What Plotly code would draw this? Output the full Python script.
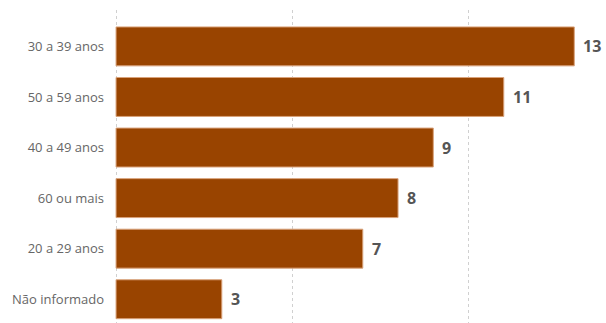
import plotly.graph_objects as go

categories = ["30 a 39 anos", "50 a 59 anos", "40 a 49 anos", "60 ou mais", "20 a 29 anos", "Não informado"]
values = [13, 11, 9, 8, 7, 3]

bar_color = "#994400"

fig = go.Figure()
fig.add_trace(go.Bar(
    x=values,
    y=categories,
    orientation="h",
    marker=dict(color=bar_color, line=dict(color="#d9a27a", width=1)),
    width=0.77,
    hoverinfo="skip",
))

for c, v in zip(categories, values):
    fig.add_annotation(
        x=v, y=c, text=f"<b>{v}</b>", showarrow=False,
        xanchor="left", xshift=7,
        font=dict(family="Open Sans, Noto Sans, sans-serif", size=16, color="#555555"),
    )

fig.update_layout(
    width=606, height=323,
    margin=dict(l=115, r=0, t=10, b=0),
    paper_bgcolor="white",
    plot_bgcolor="white",
    showlegend=False,
    font=dict(family="Open Sans, Noto Sans, sans-serif", size=13, color="#666666"),
    xaxis=dict(
        range=[-0.03, 13.9],
        tick0=0, dtick=5,
        showgrid=True, gridcolor="#d0d0d0", griddash="dot", gridwidth=1,
        zeroline=False,
        showticklabels=False,
        showline=False,
        fixedrange=True,
    ),
    yaxis=dict(
        range=[5.47, -0.72],
        showgrid=False,
        zeroline=False,
        showline=False,
        ticks="",
        ticklabelstandoff=10,
        tickfont=dict(size=13, color="#666666"),
        fixedrange=True,
    ),
)

fig.write_html(
    "out.html",
    config={"displayModeBar": False},
    post_script="document.body.style.margin='0';document.body.style.overflow='hidden';",
)
